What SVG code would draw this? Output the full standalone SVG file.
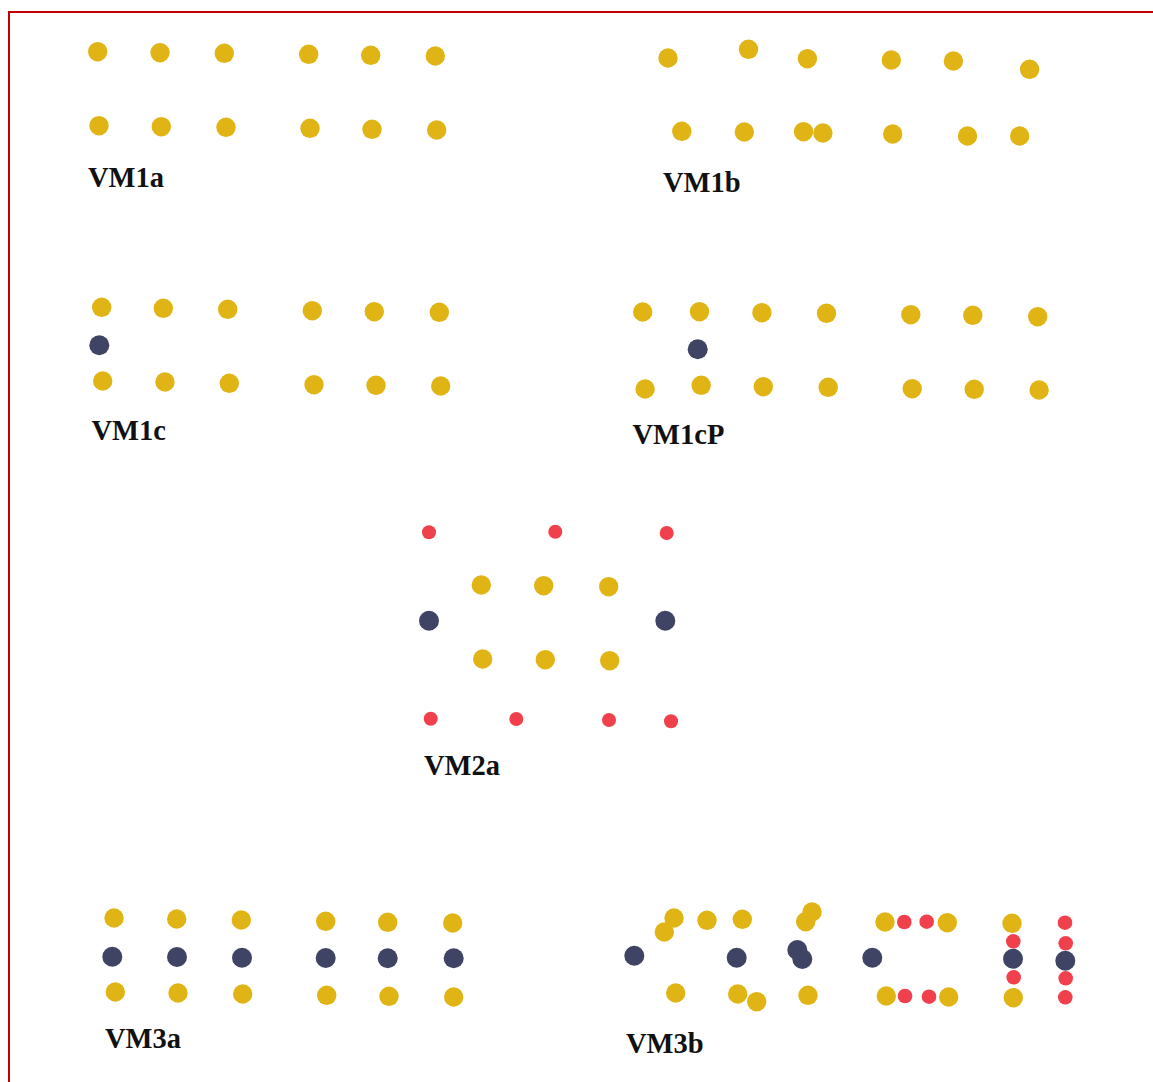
<svg xmlns="http://www.w3.org/2000/svg" width="1153" height="1082" viewBox="0 0 1153 1082">
<style>
.y{fill:#e0b414}
.d{fill:#3f4464}
.r{fill:#ef404b}
.lbl{font-family:"Liberation Serif","DejaVu Serif",serif;font-weight:bold;font-size:28.5px;fill:#111}
</style>
<rect width="1153" height="1082" fill="#fff"/>
<path d="M9 1082 V12 H1153" fill="none" stroke="#c00000" stroke-width="2"/>
<g id="VM1a">
<circle class="y" cx="97.7" cy="51.7" r="9.7"/><circle class="y" cx="160" cy="52.7" r="9.7"/><circle class="y" cx="224.3" cy="53.3" r="9.7"/><circle class="y" cx="308.7" cy="54.3" r="9.7"/><circle class="y" cx="370.7" cy="55.3" r="9.7"/><circle class="y" cx="435.3" cy="56" r="9.7"/>
<circle class="y" cx="99" cy="125.7" r="9.7"/><circle class="y" cx="161.3" cy="126.7" r="9.7"/><circle class="y" cx="226" cy="127.3" r="9.7"/><circle class="y" cx="310" cy="128.3" r="9.7"/><circle class="y" cx="372" cy="129.3" r="9.7"/><circle class="y" cx="436.7" cy="130" r="9.7"/>
<text class="lbl" x="88" y="187">VM1a</text>
</g>
<g id="VM1b">
<circle class="y" cx="668" cy="58" r="9.7"/><circle class="y" cx="748.5" cy="49.3" r="9.7"/><circle class="y" cx="807.4" cy="58.7" r="9.7"/><circle class="y" cx="891.3" cy="60" r="9.7"/><circle class="y" cx="953.4" cy="61" r="9.7"/><circle class="y" cx="1029.6" cy="69.3" r="9.7"/>
<circle class="y" cx="681.8" cy="131.3" r="9.7"/><circle class="y" cx="744.3" cy="132" r="9.7"/><circle class="y" cx="803.5" cy="131.7" r="9.7"/><circle class="y" cx="822.9" cy="133" r="9.7"/><circle class="y" cx="892.7" cy="134" r="9.7"/><circle class="y" cx="967.5" cy="136" r="9.7"/><circle class="y" cx="1019.7" cy="136" r="9.7"/>
<text class="lbl" x="663" y="191.5">VM1b</text>
</g>
<g id="VM1c">
<circle class="y" cx="101.7" cy="307.3" r="9.7"/><circle class="y" cx="163.3" cy="308.3" r="9.7"/><circle class="y" cx="227.7" cy="309.3" r="9.7"/><circle class="y" cx="312.3" cy="310.7" r="9.7"/><circle class="y" cx="374.3" cy="311.7" r="9.7"/><circle class="y" cx="439.3" cy="312.3" r="9.7"/>
<circle class="d" cx="99.3" cy="345.3" r="10"/>
<circle class="y" cx="102.7" cy="381" r="9.7"/><circle class="y" cx="165" cy="382" r="9.7"/><circle class="y" cx="229.3" cy="383.3" r="9.7"/><circle class="y" cx="314" cy="384.7" r="9.7"/><circle class="y" cx="376" cy="385.3" r="9.7"/><circle class="y" cx="440.7" cy="386" r="9.7"/>
<text class="lbl" x="91.5" y="439.5">VM1c</text>
</g>
<g id="VM1cP">
<circle class="y" cx="642.7" cy="312" r="9.7"/><circle class="y" cx="699.5" cy="311.7" r="9.7"/><circle class="y" cx="761.9" cy="312.7" r="9.7"/><circle class="y" cx="826.5" cy="313.3" r="9.7"/><circle class="y" cx="910.8" cy="314.7" r="9.7"/><circle class="y" cx="972.8" cy="315.3" r="9.7"/><circle class="y" cx="1037.7" cy="316.7" r="9.7"/>
<circle class="d" cx="697.7" cy="349.3" r="10"/>
<circle class="y" cx="645.1" cy="389" r="9.7"/><circle class="y" cx="701.2" cy="385.3" r="9.7"/><circle class="y" cx="763.3" cy="386.7" r="9.7"/><circle class="y" cx="828.2" cy="387.3" r="9.7"/><circle class="y" cx="912.2" cy="388.7" r="9.7"/><circle class="y" cx="974.2" cy="389.3" r="9.7"/><circle class="y" cx="1039.1" cy="390" r="9.7"/>
<text class="lbl" x="632.5" y="444">VM1cP</text>
</g>
<g id="VM2a">
<circle class="r" cx="429" cy="532.3" r="7"/><circle class="r" cx="555.3" cy="531.7" r="7"/><circle class="r" cx="666.7" cy="533" r="7"/>
<circle class="y" cx="481.3" cy="585" r="9.7"/><circle class="y" cx="543.7" cy="585.7" r="9.7"/><circle class="y" cx="608.7" cy="586.7" r="9.7"/>
<circle class="d" cx="429" cy="620.7" r="10"/><circle class="d" cx="665.3" cy="620.7" r="10"/>
<circle class="y" cx="482.7" cy="659" r="9.7"/><circle class="y" cx="545.3" cy="659.7" r="9.7"/><circle class="y" cx="609.7" cy="660.7" r="9.7"/>
<circle class="r" cx="430.7" cy="718.7" r="7"/><circle class="r" cx="516.3" cy="719" r="7"/><circle class="r" cx="609" cy="720" r="7"/><circle class="r" cx="671" cy="721.3" r="7"/>
<text class="lbl" x="424" y="775">VM2a</text>
</g>
<g id="VM3a">
<circle class="y" cx="114" cy="918" r="9.7"/><circle class="y" cx="176.7" cy="919" r="9.7"/><circle class="y" cx="241.3" cy="920" r="9.7"/><circle class="y" cx="325.7" cy="921.3" r="9.7"/><circle class="y" cx="387.7" cy="922.3" r="9.7"/><circle class="y" cx="452.7" cy="923" r="9.7"/>
<circle class="d" cx="112.3" cy="956.7" r="10"/><circle class="d" cx="177" cy="957" r="10"/><circle class="d" cx="242" cy="957.7" r="10"/><circle class="d" cx="325.7" cy="958" r="10"/><circle class="d" cx="387.7" cy="958.3" r="10"/><circle class="d" cx="453.7" cy="958.3" r="10"/>
<circle class="y" cx="115.3" cy="992" r="9.7"/><circle class="y" cx="178" cy="993" r="9.7"/><circle class="y" cx="242.7" cy="994" r="9.7"/><circle class="y" cx="326.7" cy="995.3" r="9.7"/><circle class="y" cx="389" cy="996.3" r="9.7"/><circle class="y" cx="453.7" cy="997" r="9.7"/>
<text class="lbl" x="105" y="1048">VM3a</text>
</g>
<g id="VM3b">
<circle class="d" cx="634.3" cy="955.7" r="10"/>
<circle class="y" cx="674" cy="918" r="9.7"/><circle class="y" cx="664.3" cy="932" r="9.7"/>
<circle class="y" cx="707" cy="920.3" r="9.7"/><circle class="y" cx="742.3" cy="919.3" r="9.7"/>
<circle class="d" cx="736.7" cy="957.7" r="10"/>
<circle class="y" cx="812" cy="912" r="9.7"/><circle class="y" cx="805.7" cy="921.7" r="9.7"/>
<circle class="d" cx="797.3" cy="950" r="10"/><circle class="d" cx="802.3" cy="959" r="10"/>
<circle class="y" cx="675.7" cy="993" r="9.7"/><circle class="y" cx="737.7" cy="994" r="9.7"/><circle class="y" cx="756.7" cy="1001.7" r="9.7"/><circle class="y" cx="808" cy="995.3" r="9.7"/>
<circle class="y" cx="885" cy="922" r="9.7"/><circle class="r" cx="904.3" cy="922" r="7.3"/><circle class="r" cx="926.7" cy="921.7" r="7.3"/><circle class="y" cx="947.3" cy="922.7" r="9.7"/>
<circle class="d" cx="872.3" cy="957.7" r="10"/>
<circle class="y" cx="886.3" cy="996" r="9.7"/><circle class="r" cx="905" cy="996" r="7.3"/><circle class="r" cx="929" cy="996.7" r="7.3"/><circle class="y" cx="948.7" cy="997" r="9.7"/>
<circle class="y" cx="1012" cy="923.3" r="9.7"/><circle class="r" cx="1013.3" cy="941.3" r="7.3"/><circle class="d" cx="1013" cy="958.7" r="10"/><circle class="r" cx="1013.7" cy="977.3" r="7.3"/><circle class="y" cx="1013.3" cy="997.7" r="9.7"/>
<circle class="r" cx="1065" cy="922.7" r="7.3"/><circle class="r" cx="1065.7" cy="943.3" r="7.3"/><circle class="d" cx="1065.3" cy="960.7" r="10"/><circle class="r" cx="1065.7" cy="978.3" r="7.3"/><circle class="r" cx="1065.3" cy="997.3" r="7.3"/>
<text class="lbl" x="626" y="1053">VM3b</text>
</g>
<g id="connectors"/>
</svg>
